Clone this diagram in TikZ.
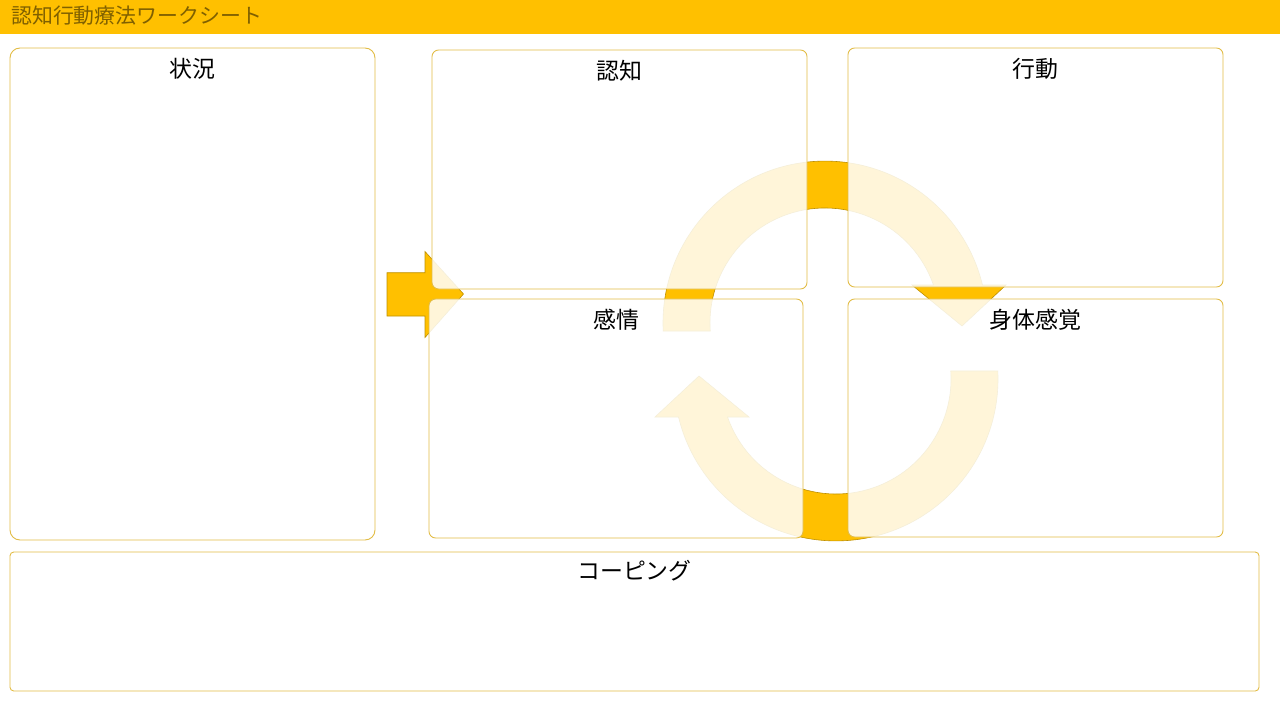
\documentclass[tikz,border=0pt]{standalone}
\usepackage{fontspec}
\setmainfont{Noto Sans CJK JP}
\usetikzlibrary{calc}
\definecolor{gold}{HTML}{FFC000}
\definecolor{golddark}{HTML}{BF9000}
\definecolor{goldtext}{HTML}{7F6000}
\definecolor{boxline}{HTML}{E2BC45}
\begin{document}
\begin{tikzpicture}[x=1bp,y=-1bp,
  shapearrow/.style={fill=gold,draw=golddark,line width=0.6bp},
  panel/.style={rectangle,draw=boxline,line width=0.9bp,fill=white,fill opacity=0.85,inner sep=0pt,outer sep=0pt},
  lbl/.style={inner sep=0pt,text=black,font=\fontsize{23}{28}\selectfont}
]
\useasboundingbox (0,0) rectangle (1280,720);
% header
\fill[gold] (0,0) rectangle (1280,34);
\node[anchor=west,inner sep=0pt,text=goldtext,font=\fontsize{21}{25}\selectfont] (title) at (11,16) {認知行動療法ワークシート};
% block arrow
\draw[shapearrow] (387,272.7) -- (425,272.7) -- (425,251.5) -- (463.5,294) -- (425,337.5) -- (425,316) -- (387,316) -- cycle;
% circular arrows
\begin{scope}
\draw[shapearrow] (663.2,331) arc[start angle=-182.8, end angle=-13.6, radius=162]
  -- (1006,285) -- (962,326) -- (912,285) -- (933.5,285)
  arc[start angle=-19.3, end angle=-184, radius=115] -- cycle;
\end{scope}
\begin{scope}[rotate around={180:(830.5,351)}]
\draw[shapearrow] (663.2,331) arc[start angle=-182.8, end angle=-13.6, radius=162]
  -- (1006,285) -- (962,326) -- (912,285) -- (933.5,285)
  arc[start angle=-19.3, end angle=-184, radius=115] -- cycle;
\end{scope}
% panels
\node[panel,rounded corners=10bp,minimum width=365bp,minimum height=492bp] (jokyo) at (192.5,294) {};
\node[panel,rounded corners=6.6bp,minimum width=375bp,minimum height=239bp] (ninchi) at (619.5,169.5) {};
\node[panel,rounded corners=6.6bp,minimum width=375bp,minimum height=239bp] (kodo) at (1035.5,167.5) {};
\node[panel,rounded corners=6.6bp,minimum width=374bp,minimum height=239bp] (kanjo) at (616,418.5) {};
\node[panel,rounded corners=6.6bp,minimum width=375bp,minimum height=238bp] (shintai) at (1035.5,418) {};
\node[panel,rounded corners=3.8bp,minimum width=1249bp,minimum height=139bp] (coping) at (634.5,621.5) {};
% labels
\node[lbl] (tjokyo) at ($(jokyo.north)+(0,21)$) {状況};
\node[lbl] (tninchi) at ($(ninchi.north)+(0,20.5)$) {認知};
\node[lbl] (tkodo) at ($(kodo.north)+(0,20.5)$) {行動};
\node[lbl] (tkanjo) at ($(kanjo.north)+(0,20.5)$) {感情};
\node[lbl] (tshintai) at ($(shintai.north)+(0,20.5)$) {身体感覚};
\node[lbl] (tcoping) at ($(coping.north)+(0,19)$) {コーピング};
\end{tikzpicture}
\end{document}
